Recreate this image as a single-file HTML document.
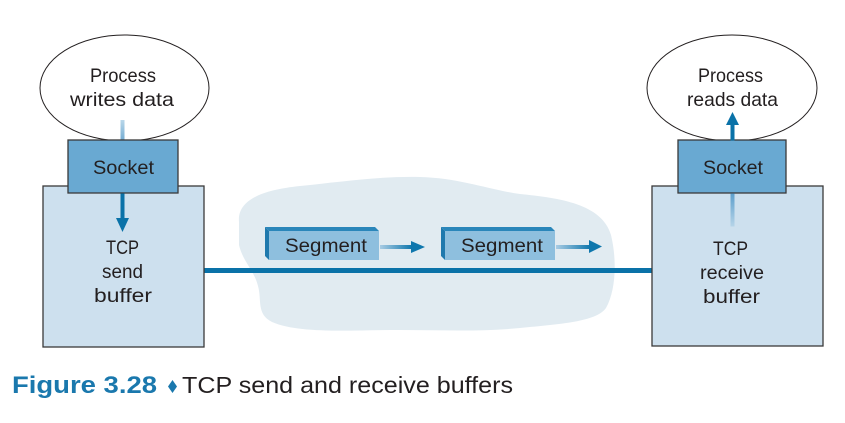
<!DOCTYPE html>
<html><head><meta charset="utf-8"><style>
html,body{margin:0;padding:0;background:#fff;}
svg{display:block;}
text{font-family:"Liberation Sans",sans-serif;fill:#231f20;}
</style></head><body>
<svg width="845" height="423" viewBox="0 0 845 423" xmlns="http://www.w3.org/2000/svg">
<defs>
<linearGradient id="ga" x1="0" x2="1" y1="0" y2="0">
<stop offset="0" stop-color="#a9cce4"/><stop offset="1" stop-color="#0f77ad"/>
</linearGradient>
<linearGradient id="gup" x1="0" x2="0" y1="0" y2="1">
<stop offset="0" stop-color="#b9d7ea"/><stop offset="1" stop-color="#6fa9d0"/>
</linearGradient>
<linearGradient id="gdn" x1="0" x2="0" y1="0" y2="1">
<stop offset="0" stop-color="#5d9fcc"/><stop offset="1" stop-color="#b6d4e8"/>
</linearGradient>
</defs>

<!-- cloud -->
<path d="M239,222 C237,200 262,190 300,186 C340,182 380,176 420,177 C460,178 490,190 520,194 C560,198 602,204 611,235 C617,260 616,290 606,308 C596,322 560,324 520,328 C480,332 440,330 400,330 C350,330 300,334 272,322 C256,314 262,300 258,286 C254,270 243,262 239,245 Z" fill="#e1ebf1"/>

<!-- connecting line -->
<rect x="203" y="268" width="450" height="5" fill="#0a72a8"/>

<!-- left side -->
<ellipse cx="124.5" cy="88" rx="84.5" ry="53" fill="#fff" stroke="#231f20" stroke-width="1"/>
<rect x="120.5" y="120" width="4" height="22" fill="url(#gup)"/>
<rect x="43" y="186" width="161" height="161" fill="#cde0ee" stroke="#3a3a3a" stroke-width="1.3"/>
<rect x="68" y="140" width="110" height="53" fill="#69a9d2" stroke="#3a3a3a" stroke-width="1.3"/>
<rect x="120.5" y="193.5" width="4" height="25" fill="#0a72a8"/>
<polygon points="116,218 129,218 122.5,232" fill="#0a72a8"/>

<text x="123" y="82" font-size="19.5" text-anchor="middle" textLength="66" lengthAdjust="spacingAndGlyphs">Process</text>
<text x="122" y="106" font-size="19.5" text-anchor="middle" textLength="104" lengthAdjust="spacingAndGlyphs">writes data</text>
<text x="123.5" y="174" font-size="19.5" text-anchor="middle" textLength="61" lengthAdjust="spacingAndGlyphs">Socket</text>
<text x="122.5" y="254" font-size="19.5" text-anchor="middle" textLength="33" lengthAdjust="spacingAndGlyphs">TCP</text>
<text x="122.5" y="278" font-size="19.5" text-anchor="middle" textLength="41" lengthAdjust="spacingAndGlyphs">send</text>
<text x="123" y="302" font-size="19.5" text-anchor="middle" textLength="58" lengthAdjust="spacingAndGlyphs">buffer</text>

<!-- right side -->
<ellipse cx="732" cy="88" rx="85" ry="53" fill="#fff" stroke="#231f20" stroke-width="1"/>
<rect x="652" y="186" width="171" height="160" fill="#cde0ee" stroke="#3a3a3a" stroke-width="1.3"/>
<rect x="678" y="140" width="108" height="53" fill="#69a9d2" stroke="#3a3a3a" stroke-width="1.3"/>
<rect x="730.5" y="193.5" width="4" height="33" fill="url(#gdn)"/>
<rect x="730.5" y="124" width="4" height="16.5" fill="#0a72a8"/>
<polygon points="726,125 739,125 732.5,112" fill="#0a72a8"/>

<text x="730.5" y="82" font-size="19.5" text-anchor="middle" textLength="65" lengthAdjust="spacingAndGlyphs">Process</text>
<text x="732.5" y="106" font-size="19.5" text-anchor="middle" textLength="91" lengthAdjust="spacingAndGlyphs">reads data</text>
<text x="733" y="174" font-size="19.5" text-anchor="middle" textLength="60" lengthAdjust="spacingAndGlyphs">Socket</text>
<text x="730.5" y="255" font-size="19.5" text-anchor="middle" textLength="35" lengthAdjust="spacingAndGlyphs">TCP</text>
<text x="732" y="279" font-size="19.5" text-anchor="middle" textLength="64" lengthAdjust="spacingAndGlyphs">receive</text>
<text x="731.5" y="303" font-size="19.5" text-anchor="middle" textLength="57" lengthAdjust="spacingAndGlyphs">buffer</text>

<!-- segment 1 -->
<polygon points="265,227 375,227 379,231 269,231" fill="#2a86ba"/>
<polygon points="265,227 269,231 269,260 265,256" fill="#1f79ad"/>
<rect x="269" y="231" width="110" height="29" fill="#8ebfde"/>
<text x="285" y="252" font-size="19.5" textLength="82" lengthAdjust="spacingAndGlyphs">Segment</text>
<rect x="380" y="245" width="32" height="4" fill="url(#ga)"/>
<polygon points="411,241 425,247 411,253" fill="#0f77ad"/>

<!-- segment 2 -->
<polygon points="441,227 551,227 555,231 445,231" fill="#2a86ba"/>
<polygon points="441,227 445,231 445,260 441,256" fill="#1f79ad"/>
<rect x="445" y="231" width="110" height="29" fill="#8ebfde"/>
<text x="461" y="252" font-size="19.5" textLength="82" lengthAdjust="spacingAndGlyphs">Segment</text>
<rect x="556" y="245" width="34" height="4" fill="url(#ga)"/>
<polygon points="589,240 602,246.5 589,253" fill="#0f77ad"/>

<!-- caption -->
<text x="12" y="393" font-size="24.5" font-weight="bold" style="fill:#1a78ad" textLength="145" lengthAdjust="spacingAndGlyphs">Figure 3.28</text>
<polygon points="172.5,380 177,386.5 172.5,393 168,386.5" fill="#1a78ad"/>
<text x="182" y="393" font-size="23.5" textLength="331" lengthAdjust="spacingAndGlyphs">TCP send and receive buffers</text>
</svg>
</body></html>
